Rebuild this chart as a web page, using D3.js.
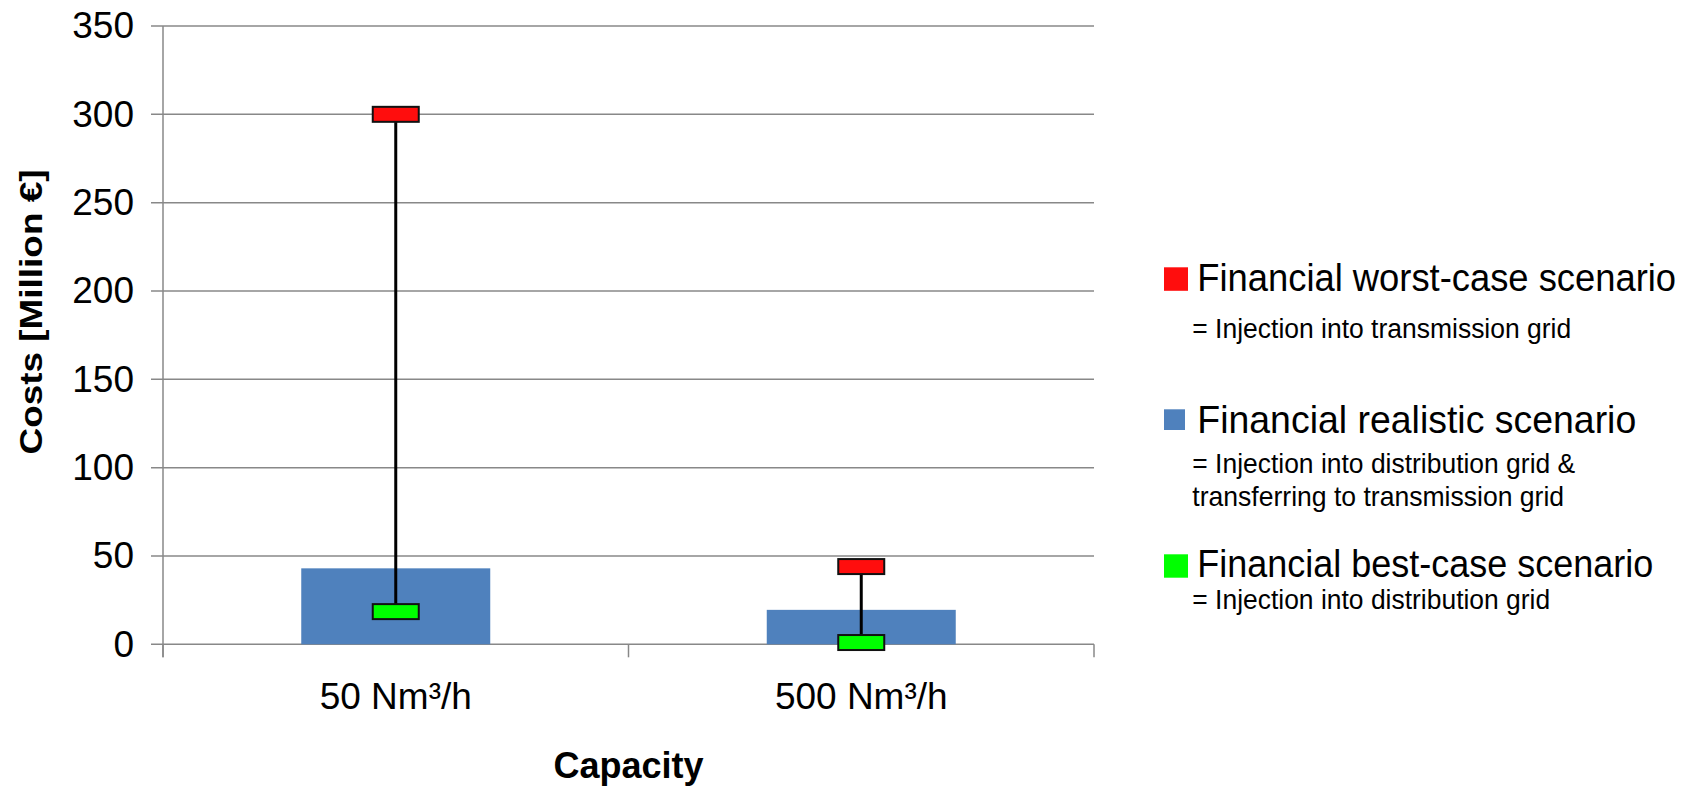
<!DOCTYPE html>
<html>
<head>
<meta charset="utf-8">
<script src="https://cdn.jsdelivr.net/npm/d3@7"></script>
<style>
  html, body { margin: 0; padding: 0; background: #fff; }
  svg { display: block; font-family: "Liberation Sans", Arial, sans-serif; }
</style>
</head>
<body>
<svg id="chart" width="1692" height="786"></svg>
<script>
// ---- data ----
const categories = ["50 Nm³/h", "500 Nm³/h"];
const realistic = [43, 19.5];   // blue bars
const worst = [300, 44];        // red markers
const best = [18.5, 1];         // green markers
const yTicks = [0, 50, 100, 150, 200, 250, 300, 350];
const legendItems = [
  { label: "Financial worst-case scenario", color: "#ff0d0d", sub: ["= Injection into transmission grid"] },
  { label: "Financial realistic scenario", color: "#4f81bd", sub: ["= Injection into distribution grid &", "transferring to transmission grid"] },
  { label: "Financial best-case scenario", color: "#00ff00", sub: ["= Injection into distribution grid"] }
];

// ---- layout ----
const svg = d3.select("#chart");
const plot = { left: 163, right: 1094, top: 26, bottom: 644.3 };

const x = d3.scaleBand().domain(categories)
  .range([plot.left, plot.right]).paddingInner(0.594).paddingOuter(0.297);
const y = d3.scaleLinear().domain([0, 350]).range([plot.bottom, plot.top]);

const gridColor = "#888888";

// gridlines
svg.append("g").selectAll("line").data(yTicks).join("line")
  .attr("x1", plot.left - 12).attr("x2", plot.right)
  .attr("y1", d => y(d)).attr("y2", d => y(d))
  .attr("stroke", gridColor).attr("stroke-width", 1.5);

// y axis line
svg.append("line").attr("x1", plot.left).attr("x2", plot.left)
  .attr("y1", plot.top).attr("y2", plot.bottom + 13)
  .attr("stroke", gridColor).attr("stroke-width", 1.5);

// x category boundary ticks
const bounds = [plot.left, (plot.left + plot.right) / 2, plot.right];
svg.append("g").selectAll("line").data(bounds).join("line")
  .attr("x1", d => d).attr("x2", d => d)
  .attr("y1", plot.bottom).attr("y2", plot.bottom + 13)
  .attr("stroke", gridColor).attr("stroke-width", 1.5);

// y tick labels via axis
const yAxis = svg.append("g").attr("transform", `translate(${plot.left - 12},0)`)
  .call(d3.axisLeft(y).tickValues(yTicks).tickSize(0).tickPadding(17));
yAxis.select(".domain").remove();
yAxis.selectAll("text").attr("font-size", 37).attr("fill", "#000")
  .attr("font-family", "Liberation Sans, Arial, sans-serif");

// x category labels via axis
const xAxis = svg.append("g").attr("transform", `translate(0,${plot.bottom})`)
  .call(d3.axisBottom(x).tickSize(0).tickPadding(38));
xAxis.select(".domain").remove();
xAxis.selectAll("text").attr("font-size", 37).attr("fill", "#000")
  .attr("font-family", "Liberation Sans, Arial, sans-serif");

// bars
svg.append("g").selectAll("rect").data(categories).join("rect")
  .attr("x", d => x(d)).attr("width", x.bandwidth())
  .attr("y", (d, i) => y(realistic[i]))
  .attr("height", (d, i) => y(0) - y(realistic[i]))
  .attr("fill", "#4f81bd");

// range lines
svg.append("g").selectAll("line").data(categories).join("line")
  .attr("x1", d => x(d) + x.bandwidth() / 2).attr("x2", d => x(d) + x.bandwidth() / 2)
  .attr("y1", (d, i) => y(worst[i])).attr("y2", (d, i) => y(best[i]))
  .attr("stroke", "#000").attr("stroke-width", 3);

// markers
const mw = 46, mh = 15;
function markers(vals, color) {
  svg.append("g").selectAll("rect").data(categories).join("rect")
    .attr("x", d => x(d) + x.bandwidth() / 2 - mw / 2)
    .attr("y", (d, i) => y(vals[i]) - mh / 2)
    .attr("width", mw).attr("height", mh)
    .attr("fill", color).attr("stroke", "#111").attr("stroke-width", 2);
}
markers(worst, "#ff0d0d");
markers(best, "#00ff00");

// axis titles
svg.append("text").attr("x", 628.5).attr("y", 778)
  .attr("text-anchor", "middle").attr("font-weight", "bold").attr("font-size", 36)
  .text("Capacity");
svg.append("text")
  .attr("transform", "translate(42,312) rotate(-90)")
  .attr("text-anchor", "middle").attr("font-weight", "bold").attr("font-size", 32)
  .attr("textLength", 285).attr("lengthAdjust", "spacingAndGlyphs")
  .text("Costs [Million €]");

// horizontally scaled text that fits a given width
function fitText(xPos, yPos, size, width, str) {
  const t = svg.append("text").attr("font-size", size).text(str);
  const natural = t.node().getComputedTextLength();
  const sx = width / natural;
  t.attr("transform", `translate(${xPos},${yPos}) scale(${sx},1)`);
  return t;
}

// legend
const legSq = [[1164, 267.3, 24, 23.5], [1164, 409.3, 21, 20.7], [1164, 554.3, 24, 23.4]];
const legBase = [290.7, 432.7, 576.7];
const legWidth = [479, 439, 456];
const subBase = [[337.7], [473.3, 505.7], [609.3]];
const subWidth = [[379], [383, 372], [358]];
legendItems.forEach((it, i) => {
  svg.append("rect").attr("x", legSq[i][0]).attr("y", legSq[i][1])
    .attr("width", legSq[i][2]).attr("height", legSq[i][3]).attr("fill", it.color);
  fitText(1197.3, legBase[i], 39, legWidth[i], it.label);
  it.sub.forEach((s, j) => {
    fitText(1192.3, subBase[i][j], 27, subWidth[i][j], s);
  });
});
</script>
</body>
</html>
